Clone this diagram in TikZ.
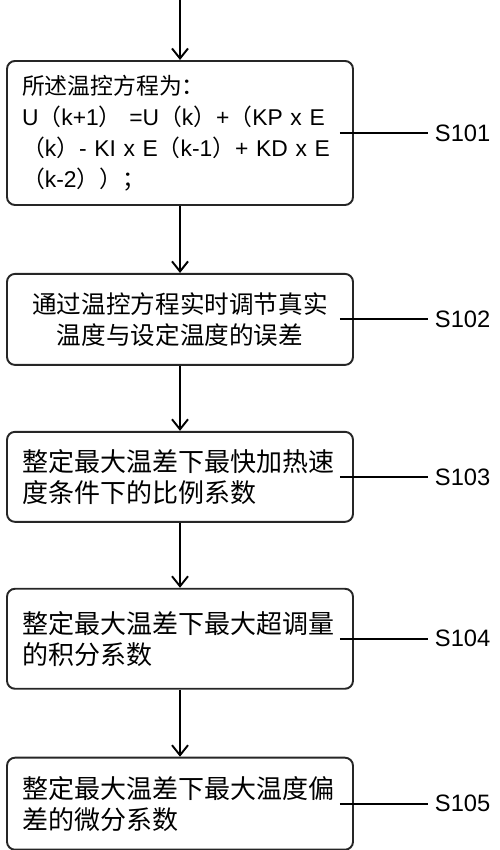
\documentclass[tikz,border=0pt]{standalone}
\usepackage{fontspec}
\setmainfont{Liberation Sans}
\newfontfamily\cjk{Noto Sans CJK SC}
\usepackage{tikz}
\usetikzlibrary{arrows.meta,positioning}
\newcommand\zkl{{\cjk （}}
\newcommand\zkr{{\cjk ）}}

\begin{document}
\begin{tikzpicture}[->,>={Straight Barb[length=2mm,width=3.2mm]},node distance=1.34cm,
		line width=1.1pt]
		\tikzstyle{stepbox}=[rectangle,rounded corners=0.16cm,draw=black!85,text width=6.32cm,inner xsep=0.3cm,align=left,font=\fontsize{14.8pt}{17.6pt}\selectfont]
		\tikzstyle{steplabel}=[inner xsep=0.12cm,inner ysep=0pt,font=\fontsize{13.5pt}{15pt}\selectfont]
		
		\useasboundingbox (0,0) rectangle (10,-17);
		
		\node[stepbox,minimum height=2.88cm,anchor=north,font=\fontsize{13pt}{17.6pt}\selectfont] (b1) at (3.6,-1.2) {{\cjk 所述温控方程为：}\\U\zkl k+1\zkr\ =U\zkl k\zkr+\zkl KP x E\\\zkl k\zkr- KI x E\zkl k-1\zkr+ KD x E\\\zkl k-2\zkr{\cjk ）；}};
		\coordinate[above=1.2cm of b1] (start);
		\node[stepbox,align=center,minimum height=1.82cm,font=\fontsize{14pt}{17.6pt}\selectfont] (b2) [below=of b1] {\cjk 通过温控方程实时调节真实\\温度与设定温度的误差};
		\node[stepbox,minimum height=1.8cm] (b3) [below=1.3cm of b2] {\cjk 整定最大温差下最快加热速\\度条件下的比例系数};
		\node[stepbox,minimum height=2cm] (b4) [below=1.3cm of b3] {\cjk 整定最大温差下最大超调量\\的积分系数};
		\node[stepbox,minimum height=1.84cm] (b5) [below=of b4] {\cjk 整定最大温差下最大温度偏\\差的微分系数};
		
		\node[steplabel] (s1) [right=1.48cm of b1] {S101};
		\node[steplabel] (s2) [right=1.48cm of b2] {S102};
		\node[steplabel] (s3) [right=1.48cm of b3] {S103};
		\node[steplabel] (s4) [right=1.48cm of b4] {S104};
		\node[steplabel] (s5) [right=1.48cm of b5] {S105};
		
		\draw (start) -- (b1);
		\draw (b1) -- (b2);
		\draw (b2) -- (b3);
		\draw (b3) -- (b4);
		\draw (b4) -- (b5);
		\foreach \i in {1,...,5}
			\draw[-] ([xshift=-0.28cm]b\i.east) -- (s\i.west);
	\end{tikzpicture}
\end{document}
